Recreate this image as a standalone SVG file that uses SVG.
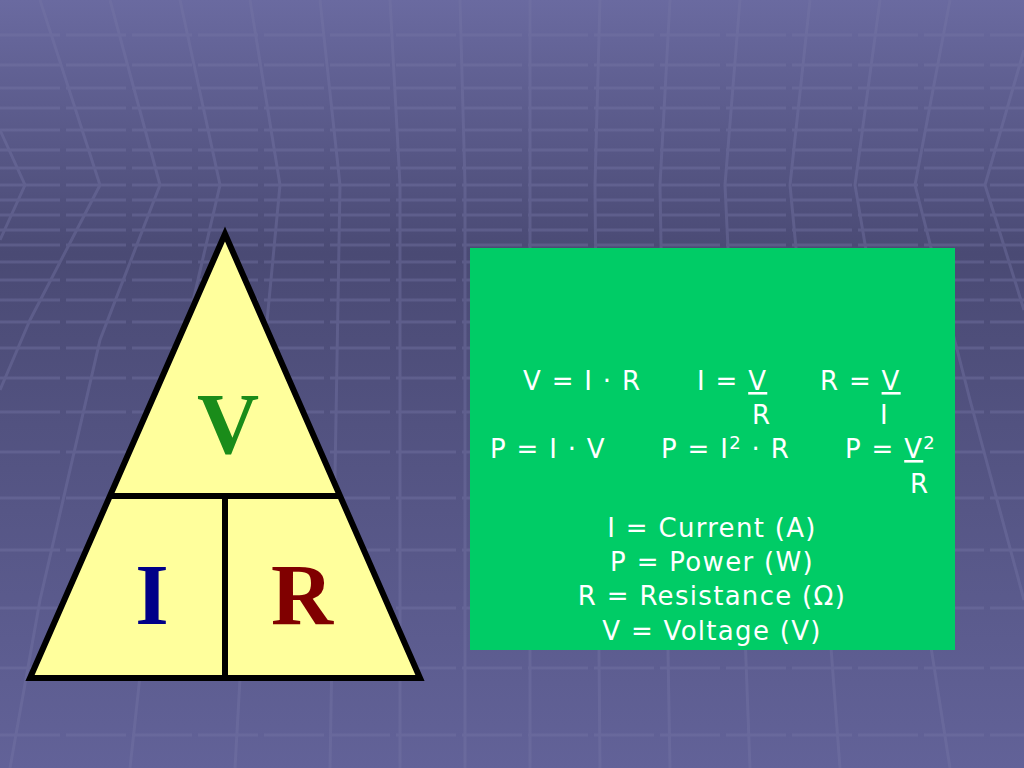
<svg xmlns="http://www.w3.org/2000/svg" width="1024" height="768" viewBox="0 0 1024 768">
<defs>
<linearGradient id="bg" x1="0" y1="0" x2="0" y2="1">
<stop offset="0" stop-color="#6a6aa0"/>
<stop offset="0.33" stop-color="#4a4a74"/>
<stop offset="1" stop-color="#626298"/>
</linearGradient>
<style>
.g{stroke:#7676a6;stroke-width:3;opacity:0.4;fill:none}
.t{font-family:"DejaVu Sans",Verdana,sans-serif;font-size:26px;letter-spacing:1.3px;fill:#fff}
.L{font-family:"Liberation Serif",serif;font-weight:bold;font-size:86px}
</style>
</defs>
<rect width="1024" height="768" fill="url(#bg)"/>
<g class="g">
<path d="M0 35H1024M0 65H1024M0 88H1024M0 108H1024M0 130H1024M0 150H1024M0 168H1024M0 185H1024M0 200H1024M0 215H1024M0 230H1024M0 245H1024M0 262H1024M0 280H1024M0 300H1024M0 322H1024M0 348H1024M0 378H1024M0 412H1024M0 452H1024M0 498H1024M0 550H1024M0 608H1024M0 668H1024M0 735H1024" stroke-dasharray="60 6"/>
<path d="M0 130L25 185L0 240M40 0L100 185L30 320L0 390M110 0L160 185L100 340L40 600L10 768M180 0L220 185L170 400L130 768M250 0L280 185L250 500L235 768M320 0L340 185L330 768M390 0L400 185L400 768M460 0L465 185L465 768M530 0L530 768M600 0L595 185L600 768M670 0L660 185L670 768M740 0L725 185L740 500L750 768M810 0L790 185L820 500L840 768M880 0L855 185L900 450L950 768M950 0L915 185L970 400L1024 600M1024 50L985 185L1024 310"/>
</g>
<g id="triangle">
<path d="M225 234L30 678H420Z" fill="#ffff9c" stroke="#000" stroke-width="6" stroke-linejoin="miter"/>
<path d="M112 496H338M225 496V678" stroke="#000" stroke-width="6"/>
<text class="L" x="228" y="453" text-anchor="middle" fill="#1a8c1a">V</text>
<text class="L" x="152" y="624" text-anchor="middle" fill="#000088">I</text>
<text class="L" x="302" y="624" text-anchor="middle" fill="#800000">R</text>
</g>
<g id="formulas">
<rect x="470" y="248" width="485" height="402" fill="#00cc66"/>
<text class="t" x="523" y="390">V = I · R</text>
<text class="t" x="697" y="390">I = <tspan text-decoration="underline">V</tspan></text>
<text class="t" x="820" y="390">R = <tspan text-decoration="underline">V</tspan></text>
<text class="t" x="752" y="424">R</text>
<text class="t" x="880" y="424">I</text>
<text class="t" x="490" y="458">P = I · V</text>
<text class="t" x="661" y="458">P = I<tspan font-size="18" dy="-9">2</tspan><tspan dy="9"> · R</tspan></text>
<text class="t" x="845" y="458">P = <tspan text-decoration="underline">V</tspan><tspan font-size="18" dy="-9">2</tspan></text>
<text class="t" x="910" y="493">R</text>
<text class="t" x="712" y="537" text-anchor="middle">I = Current (A)</text>
<text class="t" x="712" y="571" text-anchor="middle">P = Power (W)</text>
<text class="t" x="712" y="605" text-anchor="middle">R = Resistance (Ω)</text>
<text class="t" x="712" y="640" text-anchor="middle">V = Voltage (V)</text>
</g>
</svg>
